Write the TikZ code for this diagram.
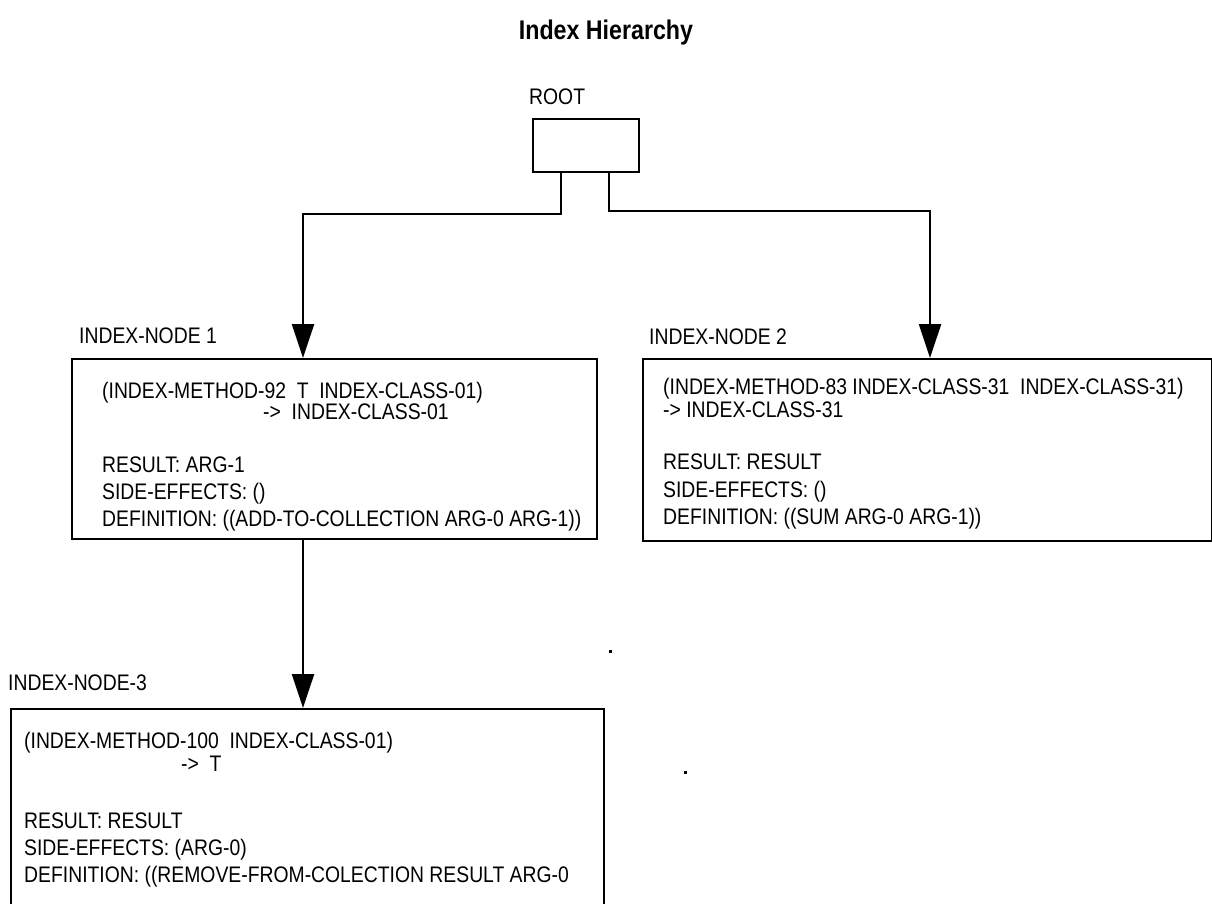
\documentclass[tikz,border=0pt]{standalone}
\usepackage{fontspec}
\setmainfont{Liberation Sans}[FakeStretch=0.86]
\usetikzlibrary{arrows.meta}
\begin{document}
\begin{tikzpicture}[x=1pt,y=-1pt,
  box/.style={draw,line width=2.4pt,rectangle,inner sep=0pt,anchor=north west},
  link/.style={line width=2.4pt},
  conn/.style={link,-{Triangle[length=34pt,width=22pt]}},
  txt/.style={anchor=base west,inner sep=0pt,font=\fontsize{22.5}{27}\selectfont},
  heading/.style={inner sep=0pt,font=\fontsize{27}{32}\selectfont\bfseries},
  speck/.style={fill=black,inner sep=0pt,minimum size=3pt}]
\clip (0,0) rectangle (1212,903);

% title
\node[heading] (title) at (606,33) {Index Hierarchy};

% root
\node[txt] (rootlbl) at (529,104) {ROOT};
\node[box,minimum width=106pt,minimum height=53pt] (root) at (532,118) {};

% index node 1
\node[txt] (lbl1) at (79,343) {INDEX-NODE 1};
\node[box,minimum width=525pt,minimum height=180pt] (n1) at (71,358) {};
\node[txt] (n1a) at (102,398) {(INDEX-METHOD-92\ \ T\ \ INDEX-CLASS-01)};
\node[txt] (n1b) at (263,419) {->\ \ INDEX-CLASS-01};
\node[txt] (n1c) at (102,472) {RESULT: ARG-1};
\node[txt] (n1d) at (102,499) {SIDE-EFFECTS: ()};
\node[txt] (n1e) at (102,526) {DEFINITION: ((ADD-TO-COLLECTION ARG-0 ARG-1))};

% index node 2
\node[txt] (lbl2) at (649,344) {INDEX-NODE 2};
\node[box,minimum width=569pt,minimum height=182pt] (n2) at (642,358) {};
\node[txt] (n2a) at (663,394) {(INDEX-METHOD-83 INDEX-CLASS-31\ \ INDEX-CLASS-31)};
\node[txt] (n2b) at (663,417) {-> INDEX-CLASS-31};
\node[txt] (n2c) at (663,469) {RESULT: RESULT};
\node[txt] (n2d) at (663,497) {SIDE-EFFECTS: ()};
\node[txt] (n2e) at (663,524) {DEFINITION: ((SUM ARG-0 ARG-1))};

% index node 3
\node[txt] (lbl3) at (8,690) {INDEX-NODE-3};
\node[box,minimum width=593pt,minimum height=230pt] (n3) at (10,708) {};
\node[txt] (n3a) at (24,748) {(INDEX-METHOD-100\ \ INDEX-CLASS-01)};
\node[txt] (n3b) at (181,771) {->\ \ T};
\node[txt] (n3c) at (24,828) {RESULT: RESULT};
\node[txt] (n3d) at (24,855) {SIDE-EFFECTS: (ARG-0)};
\node[txt] (n3e) at (24,882) {DEFINITION: ((REMOVE-FROM-COLECTION RESULT ARG-0};

% connectors
\coordinate (j1) at (303,214);
\coordinate (j2) at (930,211);
\draw[conn] ([xshift=-25pt]root.south) |- (j1) -- (j1 |- n1.north);
\draw[conn] ([xshift=23pt]root.south) |- (j2) -- (j2 |- n2.north);
\draw[conn] (j1 |- n1.south) -- (j1 |- n3.north);

% stray specks
\node[speck] (s1) at (610,651) {};
\node[speck] (s2) at (685,772) {};
\end{tikzpicture}
\end{document}
